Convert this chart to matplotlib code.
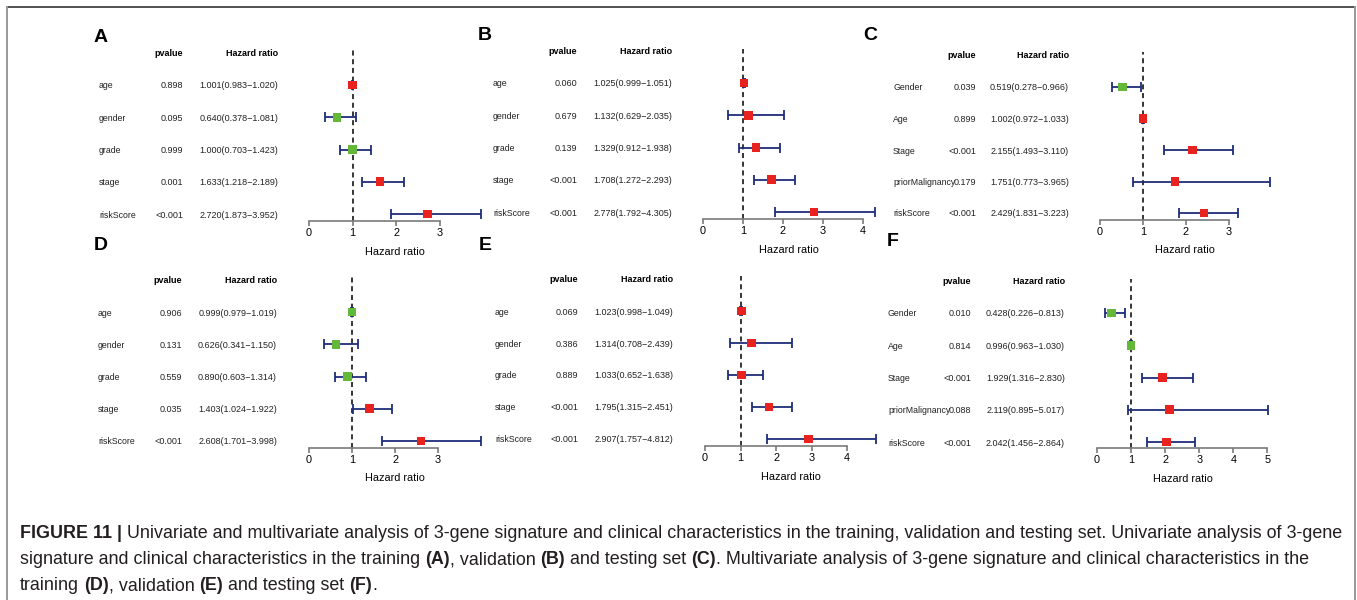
import math
import matplotlib
matplotlib.use('Agg')
import matplotlib.pyplot as plt
import matplotlib.transforms as mtransforms
from matplotlib.lines import Line2D

plt.rcParams['font.family'] = ['Liberation Sans', 'DejaVu Sans']

# ---------------- data ----------------
vars_train = ['age', 'gender', 'grade', 'stage', 'riskScore']
vars_test = ['Gender', 'Age', 'Stage', 'priorMalignancy', 'riskScore']

pvalA = ['0.898', '0.095', '0.999', '0.001', '<0.001']
hrA = [1.001, 0.640, 1.000, 1.633, 2.720]
lowA = [0.983, 0.378, 0.703, 1.218, 1.873]
highA = [1.020, 1.081, 1.423, 2.189, 3.952]

pvalB = ['0.060', '0.679', '0.139', '<0.001', '<0.001']
hrB = [1.025, 1.132, 1.329, 1.708, 2.778]
lowB = [0.999, 0.629, 0.912, 1.272, 1.792]
highB = [1.051, 2.035, 1.938, 2.293, 4.305]

pvalC = ['0.039', '0.899', '<0.001', '0.179', '<0.001']
hrC = [0.519, 1.002, 2.155, 1.751, 2.429]
lowC = [0.278, 0.972, 1.493, 0.773, 1.831]
highC = [0.966, 1.033, 3.110, 3.965, 3.223]

pvalD = ['0.906', '0.131', '0.559', '0.035', '<0.001']
hrD = [0.999, 0.626, 0.890, 1.403, 2.608]
lowD = [0.979, 0.341, 0.603, 1.024, 1.701]
highD = [1.019, 1.150, 1.314, 1.922, 3.998]

pvalE = ['0.069', '0.386', '0.889', '<0.001', '<0.001']
hrE = [1.023, 1.314, 1.033, 1.795, 2.907]
lowE = [0.998, 0.708, 0.652, 1.315, 1.757]
highE = [1.049, 2.439, 1.638, 2.451, 4.812]

pvalF = ['0.010', '0.814', '<0.001', '0.088', '<0.001']
hrF = [0.428, 0.996, 1.929, 2.119, 2.042]
lowF = [0.226, 0.963, 1.316, 0.895, 1.456]
highF = [0.813, 1.030, 2.830, 5.017, 2.864]

panel_letters = ['A', 'B', 'C', 'D', 'E', 'F']

caption_lines = [
    [("FIGURE 11 |", True, False),
     ("Univariate and multivariate analysis of 3-gene signature and clinical characteristics in the training, validation and testing set. Univariate analysis of 3-gene", False, True)],
    [("signature and clinical characteristics in the training", False, False),
     ("(A)", True, True), (", validation", False, False), ("(B)", True, True),
     ("and testing set", False, True), ("(C)", True, True),
     (". Multivariate analysis of 3-gene signature and clinical characteristics in the", False, False)],
    [("training", False, False), ("(D)", True, True), (", validation", False, False),
     ("(E)", True, True), ("and testing set", False, True), ("(F)", True, True),
     (".", False, False)],
]

# ---------------- styling / layout ----------------
W, H = 1357, 600
RED = '#e8231f'
GREEN = '#63b83a'
BAR = '#1f2d7a'
AXC = '#7a7a7a'

fig = plt.figure(figsize=(W / 100, H / 100), dpi=100)
fig.patch.set_facecolor('white')

# layout per panel (pixels)
layouts = [
    dict(letter=(101, 37), lab=99, pv=183, hr=278, head=53, top=85, bot=214, axis=221, xl=252, x0=309, w=172),
    dict(letter=(485, 36), lab=493, pv=577, hr=672, head=52, top=83, bot=212, axis=219, xl=250, x0=703, w=172),
    dict(letter=(870, 36), lab=893, pv=976, hr=1069, head=55, top=87, bot=213, axis=220, xl=250, x0=1100, w=170),
    dict(letter=(101, 246), lab=98, pv=182, hr=277, head=280, top=312, bot=441, axis=448, xl=478, x0=309, w=172),
    dict(letter=(485, 245), lab=495, pv=578, hr=673, head=279, top=311, bot=439, axis=446, xl=477, x0=705, w=171),
    dict(letter=(893, 242), lab=888, pv=971, hr=1065, head=282, top=313, bot=442, axis=448, xl=479, x0=1097, w=171),
]

panels = [
    (vars_train, pvalA, hrA, lowA, highA),
    (vars_train, pvalB, hrB, lowB, highB),
    (vars_test, pvalC, hrC, lowC, highC),
    (vars_train, pvalD, hrD, lowD, highD),
    (vars_train, pvalE, hrE, lowE, highE),
    (vars_test, pvalF, hrF, lowF, highF),
]

TXT = 6.5
NAME = 6.3


def fx(px):
    return px / W


def fy(py):
    return 1 - py / H


for (names, pv, hr, lo, hi), L, letter in zip(panels, layouts, panel_letters):
    n = len(names)
    s = (L['bot'] - L['top']) / (n - 1)

    def yd(p, n=n, s=s, L=L):
        return n - (p - L['top']) / s

    T = L['head'] - 12
    B = L['xl'] + 10
    xmax = max(hi)
    ax = fig.add_axes([fx(L['x0']), fy(B), L['w'] / W, (B - T) / H])
    ax.set_xlim(0, xmax)
    ax.set_ylim(yd(B), yd(T))
    ax.patch.set_alpha(0)
    for sp in ['top', 'left', 'right']:
        ax.spines[sp].set_visible(False)
    tmax = int(math.floor(xmax))
    ax.spines['bottom'].set_position(('data', yd(L['axis'])))
    ax.spines['bottom'].set_bounds(0, tmax)
    ax.spines['bottom'].set_color(AXC)
    ax.spines['bottom'].set_linewidth(1.2)
    ax.set_xticks(list(range(tmax + 1)))
    ax.tick_params(axis='x', direction='out', length=3.8, width=1.2, color=AXC,
                   labelsize=7.8, pad=1.0, labelcolor='black')
    ax.set_yticks([])

    ys = [n - i for i in range(n)]
    # reference line
    ax.vlines(1, yd(L['axis']), yd(L['head'] - 3), colors='black', linewidth=1.1,
              linestyles=(0, (3.3, 2.4)), zorder=2, clip_on=False)
    # CI bars
    xerr = [[h - l for h, l in zip(hr, lo)], [u - h for h, u in zip(hr, hi)]]
    ax.errorbar(hr, ys, xerr=xerr, fmt='none', ecolor=BAR, elinewidth=1.3,
                capsize=3.6, capthick=1.3, zorder=3, clip_on=False)
    cols = [RED if h > 1 else GREEN for h in hr]
    ax.scatter(hr, ys, marker='s', s=38, c=cols, zorder=4, linewidths=0, clip_on=False)

    # xlabel
    ax.text(xmax / 2, yd(L['xl']), 'Hazard ratio', ha='center', va='center',
            fontsize=7.8, color='black')

    trans = mtransforms.blended_transform_factory(fig.transFigure, ax.transData)
    ax.text(fx(L['pv']), yd(L['head']), 'pvalue', transform=trans, ha='right',
            va='center', fontsize=TXT, fontweight='bold')
    ax.text(fx(L['hr']), yd(L['head']), 'Hazard ratio', transform=trans, ha='right',
            va='center', fontsize=TXT, fontweight='bold')
    for i in range(n):
        y = ys[i]
        ax.text(fx(L['lab']), y, names[i], transform=trans, ha='left', va='center_baseline',
                fontsize=NAME, color='#222222')
        ax.text(fx(L['pv']), y, pv[i], transform=trans, ha='right', va='center_baseline',
                fontsize=TXT, color='#222222')
        ax.text(fx(L['hr']), y, '%.3f(%.3f\u2212%.3f)' % (hr[i], lo[i], hi[i]),
                transform=trans, ha='right', va='center_baseline', fontsize=TXT, color='#222222')

    fig.text(fx(L['letter'][0]), fy(L['letter'][1]), letter, ha='center', va='center',
             fontsize=14, fontweight='bold')

# frame
fig.add_artist(Line2D([fx(7), fx(1355)], [fy(7), fy(7)], color='#333333', linewidth=1.2))
fig.add_artist(Line2D([fx(7), fx(7)], [fy(7), fy(600)], color='#999999', linewidth=1.4))
fig.add_artist(Line2D([fx(1355), fx(1355)], [fy(7), fy(600)], color='#999999', linewidth=1.4))

# caption with mixed bold runs
renderer = fig.canvas.get_renderer()
CAPC = '#231f20'


def measure(text, size, bold):
    t = fig.text(0, 0, text, fontsize=size, fontweight='bold' if bold else 'normal')
    w = t.get_window_extent(renderer).width
    t.remove()
    return w


def line_width(runs, size):
    sp = measure('a a', size, False) - measure('aa', size, False)
    w = 0
    for text, bold, space in runs:
        if space:
            w += sp
        w += measure(text, size, bold)
    return w


base = 10.0
target = 1340 - 20
cap_size = base * target / line_width(caption_lines[0], base)

sp_w = measure('a a', cap_size, False) - measure('aa', cap_size, False)
for li, (runs, ypx) in enumerate(zip(caption_lines, [534, 560, 586])):
    x = 20
    for text, bold, space in runs:
        if space:
            x += sp_w
        t = fig.text(fx(x), fy(ypx), text, ha='left', va='center', fontsize=cap_size,
                     fontweight='bold' if bold else 'normal', color=CAPC)
        x += t.get_window_extent(renderer).width

fig.savefig('out.png', dpi=100, facecolor='white')
